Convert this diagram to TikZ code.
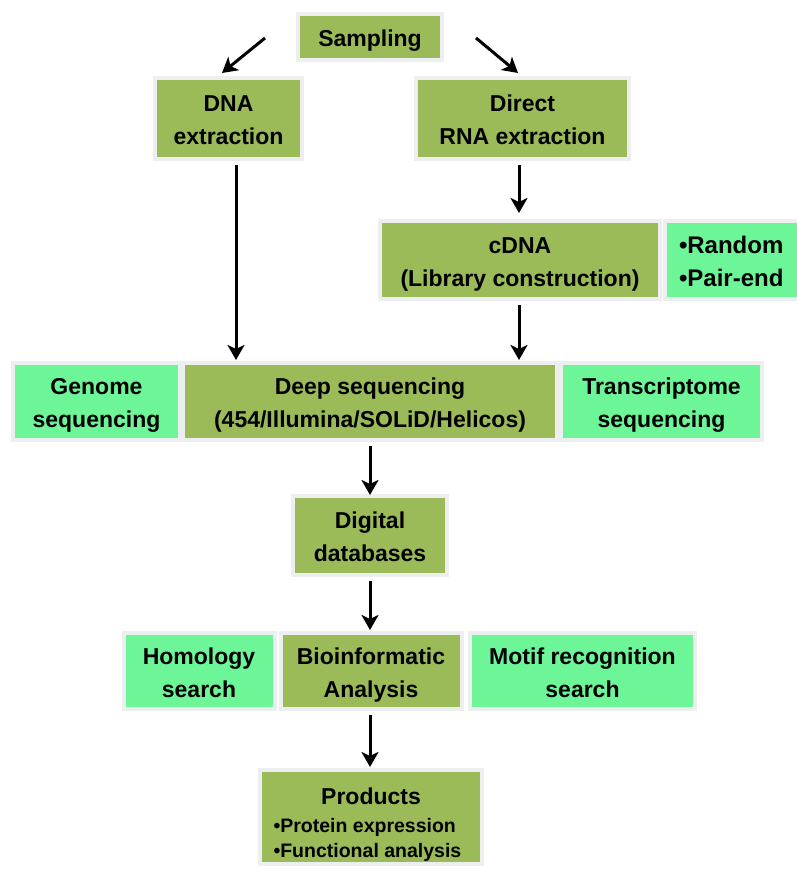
\documentclass[tikz,border=0pt]{standalone}
\usepackage{fontspec}
\setmainfont{Liberation Sans}
\usetikzlibrary{arrows.meta}
\definecolor{olive}{RGB}{155,187,89}
\definecolor{mint}{RGB}{108,246,152}
\definecolor{frame}{RGB}{236,238,240}
\newcommand{\tb}[2][3pt]{\raisebox{-#1}[\height][\depth]{\begin{tabular}{@{}c@{}}#2\end{tabular}}}
\newcommand{\tbl}[2][3pt]{\raisebox{-#1}[\height][\depth]{\begin{tabular}{@{}l@{}}#2\end{tabular}}}
\begin{document}
\begin{tikzpicture}[x=1pt,y=-1pt,
  box/.style={draw=frame,line width=4pt,inner sep=0pt,
    font=\fontsize{23}{33}\selectfont\bfseries},
  main/.style={box,fill=olive},
  side/.style={box,fill=mint},
  arr/.style={line width=3pt,-{Stealth[length=15pt,width=17pt,inset=4pt]}}]
\useasboundingbox (0,0) rectangle (796,869);
\node[main,minimum width=144pt,minimum height=46pt] (samp) at (370,37) {\tb[3pt]{Sampling}};
\node[main,minimum width=147pt,minimum height=81pt] (dna) at (228.5,118.5) {\tb{DNA\\extraction}};
\node[main,minimum width=213pt,minimum height=81pt] (rna) at (522.5,118.5) {\tb{Direct\\RNA extraction}};
\node[main,minimum width=280pt,minimum height=78pt] (cdna) at (520,260) {\tb{cDNA\\(Library construction)}};
\node[side,minimum width=137pt,minimum height=78pt,
  font=\fontsize{24}{33}\selectfont\bfseries] (rand) at (733.5,260) {\makebox[115pt][l]{\hspace{3pt}\tbl{•Random\\•Pair-end}}};
\node[side,minimum width=167pt,minimum height=77pt] (gen) at (96.5,401.5) {\tb{Genome\\sequencing}};
\node[main,minimum width=374pt,minimum height=77pt] (deep) at (370,401.5) {\tb{Deep sequencing\\(454/Illumina/SOLiD/Helicos)}};
\node[side,minimum width=201pt,minimum height=77pt] (trans) at (661.5,401.5) {\tb{Transcriptome\\sequencing}};
\node[main,minimum width=154pt,minimum height=79pt] (dig) at (370,535.5) {\tb{Digital\\databases}};
\node[side,minimum width=151pt,minimum height=76pt] (hom) at (199,671) {\tb{Homology\\search}};
\node[main,minimum width=181pt,minimum height=76pt] (bio) at (371,671) {\tb{Bioinformatic\\Analysis}};
\node[side,minimum width=225pt,minimum height=76pt] (motif) at (582.5,671) {\tb{Motif recognition\\search}};
\node[main,minimum width=222pt,minimum height=94pt,
  font=\fontsize{19.5}{25.5}\selectfont\bfseries] (prod) at (371,817)
  {\raisebox{-9pt}[\height][\depth]{\begin{tabular}{@{}c@{}}{\fontsize{23}{30}\selectfont Products}\\[2pt]\makebox[195pt][l]{•Protein expression}\\\makebox[195pt][l]{•Functional analysis}\end{tabular}}};
\coordinate (s1) at (265,38);
\coordinate (s2) at (476,38);
\draw[arr] (s1) -- (222,73);
\draw[arr] (s2) -- (518,73);
\draw[arr] (dna.south -| 236,0) ++(0,4) -- (236,360);
\draw[arr] (rna.south -| 519,0) ++(0,4) -- (519,213);
\draw[arr] (cdna.south -| 519,0) ++(0,4) -- (519,360);
\draw[arr] (deep.south) ++(0,4) -- (370,495);
\draw[arr] (dig.south) ++(0,4) -- (370,630);
\draw[arr] (bio.south -| 370,0) ++(0,4) -- (370,767);
\end{tikzpicture}
\end{document}
